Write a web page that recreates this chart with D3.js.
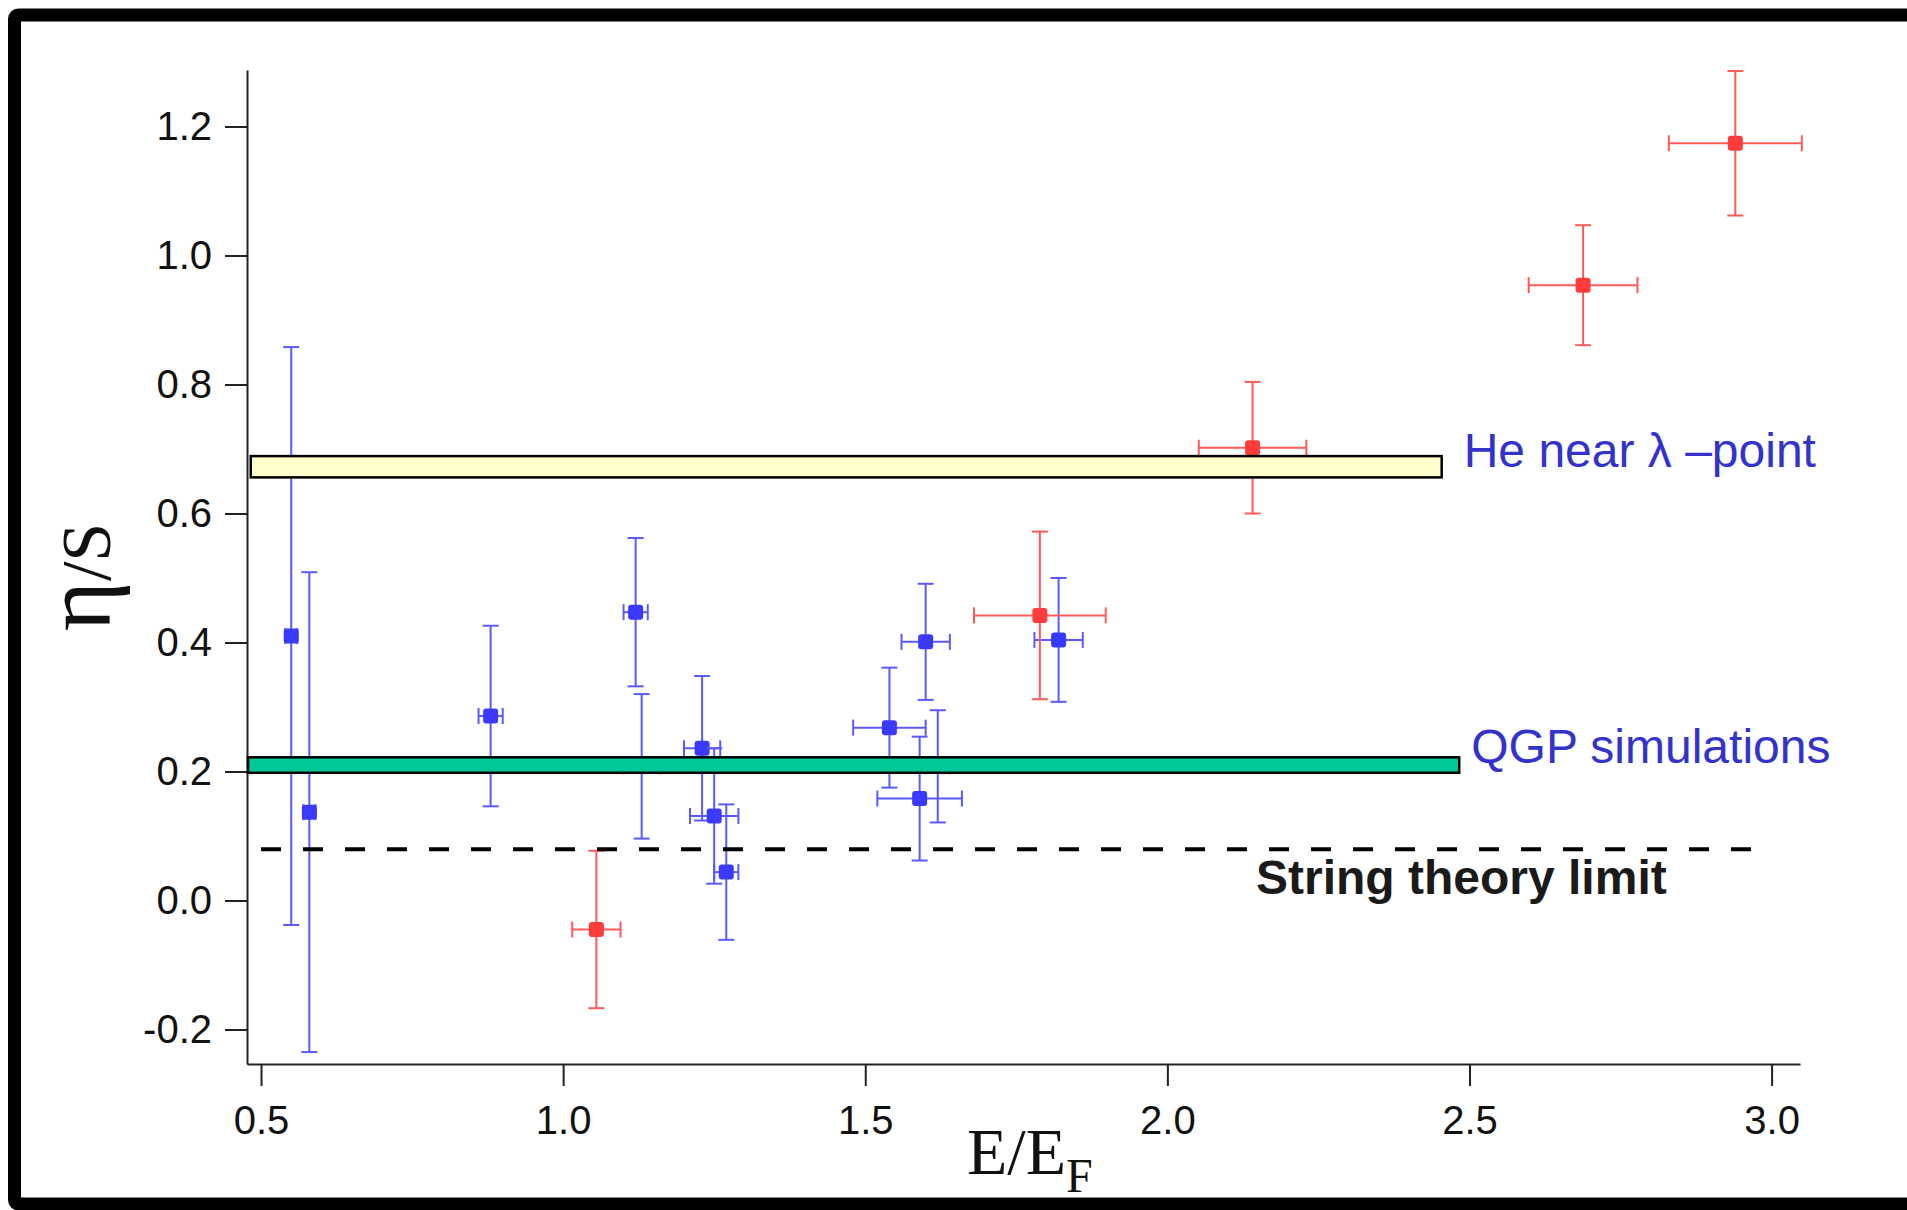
<!DOCTYPE html>
<html>
<head>
<meta charset="utf-8">
<script src="https://cdn.jsdelivr.net/npm/d3@7"></script>
<style>
  body { margin: 0; background: #fff; }
  svg { display: block; }
</style>
</head>
<body>
<svg id="chart" width="1907" height="1210"></svg>
<script>
// blue points (E/EF, eta/s, errors)
const blueX    = [0.55, 0.58, 0.88, 1.12, 1.13, 1.23, 1.25, 1.27, 1.54, 1.59, 1.60, 1.62, 1.82]
const blueY    = [0.410, 0.137, 0.286, 0.447, 0.208, 0.236, 0.131, 0.044, 0.268, 0.158, 0.401, 0.208, 0.404]
const blueYErr = [0.448, 0.372, 0.140, 0.115, 0.112, 0.112, 0.105, 0.105, 0.093, 0.096, 0.090, 0.087, 0.096]
const blueXErr = [0.01, 0.01, 0.02, 0.02, 0.03, 0.03, 0.04, 0.02, 0.06, 0.07, 0.04, 0.02, 0.04]

// red points
const redX    = [1.055, 1.789, 2.141, 2.688, 2.940]
const redY    = [-0.045, 0.442, 0.702, 0.954, 1.174]
const redYErr = [0.122, 0.130, 0.102, 0.093, 0.112]
const redXErr = [0.04, 0.109, 0.089, 0.09, 0.11]

// reference bands [y0, y1, x0, x1]
const heBand  = [0.656, 0.689, 0.483, 2.454]
const qgpBand = [0.198, 0.222, 0.4785, 2.483]
const stringLimit = [0.0796, 0.5, 2.967]   // 1/4pi, from x to x

const xTicks = [0.5, 1.0, 1.5, 2.0, 2.5, 3.0]
const yTicks = [-0.2, 0.0, 0.2, 0.4, 0.6, 0.8, 1.0, 1.2]

const svg = d3.select('#chart')

const x = d3.scaleLinear().domain([0.4768, 3.047]).range([247, 1800])
const y = d3.scaleLinear().domain([-0.2535, 1.2876]).range([1064, 70])

// frame, open on the right
svg.append('rect')
    .attr('x', 14.5).attr('y', 15)
    .attr('width', 2000).attr('height', 1189)
    .attr('rx', 4)
    .attr('fill', 'none')
    .attr('stroke', '#000')
    .attr('stroke-width', 13)

// axes
const fmt = v => v.toFixed(1)
const xAxis = svg.append('g')
    .attr('transform', `translate(0,${y.range()[0]})`)
    .call(d3.axisBottom(x).tickValues(xTicks).tickFormat(fmt)
        .tickSize(22).tickSizeOuter(0).tickPadding(20))
const yAxis = svg.append('g')
    .attr('transform', `translate(${x.range()[0]},0)`)
    .call(d3.axisLeft(y).tickValues(yTicks).tickFormat(fmt)
        .tickSize(22).tickSizeOuter(0).tickPadding(13))

;[xAxis, yAxis].forEach(a => {
    a.selectAll('path, line').attr('stroke', '#222').attr('stroke-width', 2)
    a.selectAll('text')
        .attr('fill', '#111')
        .style('font-family', '"Liberation Sans", Arial, sans-serif')
        .style('font-size', '40px')
})

// axis titles
const xt = svg.append('text')
    .attr('x', 967).attr('y', 1174)
    .style('font-family', '"Liberation Serif", "Times New Roman", serif')
    .style('font-size', '66px')
    .attr('fill', '#111')
xt.append('tspan').text('E/E')
xt.append('tspan').attr('dy', 18).style('font-size', '48px').text('F')

const yt = svg.append('text')
    .attr('transform', 'translate(110,577) rotate(-90)')
    .attr('text-anchor', 'middle')
    .style('font-family', '"Liberation Serif", "Times New Roman", serif')
    .attr('fill', '#111')
yt.append('tspan').style('font-size', '96px').text('η')
yt.append('tspan').style('font-size', '70px').text('/S')

// error bars + markers
function drawSeries(xs, ys, xe, ye, barColor, dotColor) {
    const data = xs.map((v, i) => ({x: v, y: ys[i], xe: xe[i], ye: ye[i]}))
    const g = svg.append('g')
        .attr('stroke', barColor)
        .attr('stroke-width', 2)
    const cap = 8
    const pts = g.selectAll('.pt')
        .data(data)
        .enter()
        .append('g')
        .attr('class', 'pt')

    pts.append('line')
        .attr('x1', d => x(d.x)).attr('x2', d => x(d.x))
        .attr('y1', d => y(d.y - d.ye)).attr('y2', d => y(d.y + d.ye))
    pts.append('line')
        .attr('x1', d => x(d.x) - cap).attr('x2', d => x(d.x) + cap)
        .attr('y1', d => y(d.y + d.ye)).attr('y2', d => y(d.y + d.ye))
    pts.append('line')
        .attr('x1', d => x(d.x) - cap).attr('x2', d => x(d.x) + cap)
        .attr('y1', d => y(d.y - d.ye)).attr('y2', d => y(d.y - d.ye))
    pts.append('line')
        .attr('x1', d => x(d.x - d.xe)).attr('x2', d => x(d.x + d.xe))
        .attr('y1', d => y(d.y)).attr('y2', d => y(d.y))
    pts.append('line')
        .attr('x1', d => x(d.x - d.xe)).attr('x2', d => x(d.x - d.xe))
        .attr('y1', d => y(d.y) - cap).attr('y2', d => y(d.y) + cap)
    pts.append('line')
        .attr('x1', d => x(d.x + d.xe)).attr('x2', d => x(d.x + d.xe))
        .attr('y1', d => y(d.y) - cap).attr('y2', d => y(d.y) + cap)

    pts.append('rect')
        .attr('x', d => x(d.x) - 7.5).attr('y', d => y(d.y) - 7.5)
        .attr('width', 15).attr('height', 15)
        .attr('rx', 3)
        .attr('stroke', 'none')
        .attr('fill', dotColor)
}

drawSeries(blueX, blueY, blueXErr, blueYErr, '#5a5aff', '#3a3aff')
drawSeries(redX, redY, redXErr, redYErr, '#ff5a5a', '#ff3c3c')

// bands, drawn over the points
function band(b, fill) {
    svg.append('rect')
        .attr('x', x(b[2])).attr('y', y(b[1]))
        .attr('width', x(b[3]) - x(b[2]))
        .attr('height', y(b[0]) - y(b[1]))
        .attr('fill', fill)
        .attr('stroke', '#000')
        .attr('stroke-width', 2.5)
}
band(heBand, '#ffffcc')
band(qgpBand, '#00c896')

svg.append('line')
    .attr('x1', x(stringLimit[1])).attr('x2', x(stringLimit[2]))
    .attr('y1', y(stringLimit[0])).attr('y2', y(stringLimit[0]))
    .attr('stroke', '#000')
    .attr('stroke-width', 4)
    .attr('stroke-dasharray', '20 22')

// labels
const sans = '"Liberation Sans", Arial, sans-serif'
svg.append('text')
    .attr('x', x(heBand[3]) + 22).attr('y', 467)
    .style('font-family', sans).style('font-size', '48px')
    .attr('fill', '#3333cc')
    .text('He near λ –point')

svg.append('text')
    .attr('x', x(qgpBand[3]) + 12).attr('y', 763)
    .style('font-family', sans).style('font-size', '48px')
    .attr('fill', '#3333cc')
    .text('QGP simulations')

svg.append('text')
    .attr('x', 1256).attr('y', y(stringLimit[0]) + 45)
    .style('font-family', sans).style('font-size', '48px')
    .style('font-weight', 'bold')
    .attr('fill', '#1a1a1a')
    .text('String theory limit')
</script>
</body>
</html>
